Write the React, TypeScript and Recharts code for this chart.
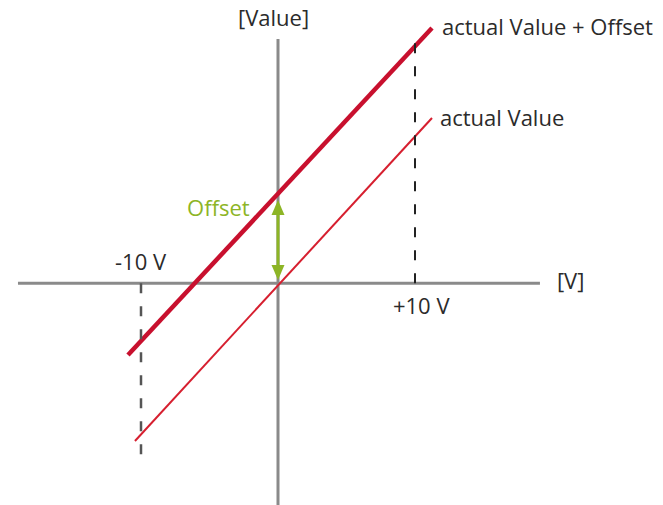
import React from 'react';
import { ComposedChart, Line, XAxis, YAxis, Scatter, ReferenceDot } from 'recharts';

// Axis ranges (data units: volts on x, value on y)
const X_DOMAIN: [number, number] = [-20, 20];
const Y_DOMAIN: [number, number] = [-16.3, 20];

// Series
const actualValue = [
  { x: -10.44, y: -11.6 },
  { x: 11.24, y: 12.14 },
];
const actualValuePlusOffset = [
  { x: -10.95, y: -5.28 },
  { x: 11.24, y: 18.75 },
];

// Axis lines through origin
const horizontalAxis = [
  { x: -18.98, y: 0 },
  { x: 19.12, y: 0 },
];
const verticalAxis = [
  { x: 0, y: 17.94 },
  { x: 0, y: -16.3 },
];

// Dashed markers at ±10 V
const plus10Marker = [
  { x: 10, y: 0 },
  { x: 10, y: 18.39 },
];
const minus10Marker = [
  { x: -10, y: 0 },
  { x: -10, y: -12.92 },
];

// Offset arrow
const offsetShaft = [
  { x: 0, y: 5.2 },
  { x: 0, y: 1.1 },
];
const offsetArrowHeads = [
  { x: 0, y: 6.11, dir: 'up' },
  { x: 0, y: 0.24, dir: 'down' },
];

// Text annotations (anchor = left baseline)
const labels = [
  { text: '[Value]', x: -2.92, y: 18.9, color: '#2b2b2b' },
  { text: 'actual Value + Offset', x: 11.97, y: 18.24, color: '#2b2b2b' },
  { text: 'actual Value', x: 11.82, y: 11.55, color: '#2b2b2b' },
  { text: 'Offset', x: -6.64, y: 4.94, color: '#8db526' },
  { text: '-10 V', x: -11.9, y: 0.97, color: '#2b2b2b' },
  { text: '+10 V', x: 8.39, y: -2.26, color: '#2b2b2b' },
  { text: '[V]', x: 20.36, y: -0.43, color: '#2b2b2b' },
];

const GREEN = '#8db526';
const AXIS_GRAY = '#8a8a8a';
const FONT = '"Open Sans", sans-serif';

const ArrowHead = (props: any) => {
  const { cx, cy, payload } = props;
  const w = 6.5;
  const h = 15;
  const d =
    payload.dir === 'up'
      ? `M${cx},${cy} L${cx - w},${cy + h} L${cx + w},${cy + h} Z`
      : `M${cx},${cy} L${cx - w},${cy - h} L${cx + w},${cy - h} Z`;
  return <path d={d} fill={GREEN} />;
};

export default function App() {
  return (
    <div style={{ position: 'absolute', left: 0, top: 0, background: '#fff' }}>
      <ComposedChart
        width={663}
        height={505}
        margin={{ top: 11, right: 111, bottom: 0, left: 4 }}
      >
        <XAxis type="number" dataKey="x" domain={X_DOMAIN} hide />
        <YAxis type="number" dataKey="y" domain={Y_DOMAIN} hide />

        <Line data={horizontalAxis} dataKey="y" stroke={AXIS_GRAY} strokeWidth={3} dot={false} activeDot={false} isAnimationActive={false} />
        <Line data={verticalAxis} dataKey="y" stroke={AXIS_GRAY} strokeWidth={3} dot={false} activeDot={false} isAnimationActive={false} />

        <Line data={actualValuePlusOffset} dataKey="y" stroke="#c8102e" strokeWidth={4.5} dot={false} activeDot={false} isAnimationActive={false} />
        <Line data={actualValue} dataKey="y" stroke="#d61f2f" strokeWidth={2} dot={false} activeDot={false} isAnimationActive={false} />

        <Line data={plus10Marker} dataKey="y" stroke="#222" strokeWidth={2} strokeDasharray="10 13" dot={false} activeDot={false} isAnimationActive={false} />
        <Line data={minus10Marker} dataKey="y" stroke="#555" strokeWidth={2.5} strokeDasharray="10 13" dot={false} activeDot={false} isAnimationActive={false} />

        <Line data={offsetShaft} dataKey="y" stroke={GREEN} strokeWidth={3} dot={false} activeDot={false} isAnimationActive={false} />
        <Scatter data={offsetArrowHeads} dataKey="y" shape={ArrowHead} isAnimationActive={false} />

        {labels.map((l) => (
          <ReferenceDot
            key={l.text}
            x={l.x}
            y={l.y}
            ifOverflow="visible"
            shape={(p: any) => (
              <text x={p.cx} y={p.cy} fill={l.color} fontFamily={FONT} fontSize={22} textAnchor="start">
                {l.text}
              </text>
            )}
          />
        ))}
      </ComposedChart>
    </div>
  );
}
